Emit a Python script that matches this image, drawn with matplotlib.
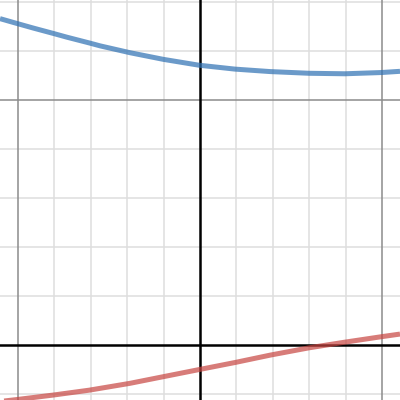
import numpy as np
import matplotlib.pyplot as plt

# values (x and y in minor-grid units)
blue_x = [-5.48, -5.01, -4.58, -4.03, -3.64, -3.04, -2.74, -1.92, -1.01,
          -0.03, 0.96, 1.92, 2.99, 3.97, 4.96, 5.48]
blue_y = [6.66, 6.56, 6.47, 6.36, 6.28, 6.165, 6.105, 5.965, 5.83,
          5.71, 5.63, 5.58, 5.545, 5.535, 5.56, 5.585]

red_x = [-5.48, -5.01, -4.03, -3.04, -1.92, -1.01, -0.03, 0.96, 1.92,
         2.99, 3.97, 4.96, 5.48]
red_y = [-1.15, -1.11, -1.02, -0.92, -0.78, -0.645, -0.50, -0.355, -0.205,
         -0.055, 0.06, 0.17, 0.225]

x_range = (-5.48, 5.48)
y_range = (-1.12, 7.04)

fig = plt.figure(figsize=(4, 4), dpi=100)
ax = fig.add_axes([0, 0, 1, 1])
ax.set_xlim(*x_range)
ax.set_ylim(*y_range)
ax.axis("off")

# minor / major grid
for gx in range(-5, 6):
    if gx == 0:
        continue
    if gx % 5 == 0:
        ax.axvline(gx, color="#8c8c8c", lw=1.1, zorder=1)
    else:
        ax.axvline(gx, color="#dedede", lw=1.1, zorder=0)
for gy in range(-1, 8):
    if gy == 0:
        continue
    if gy % 5 == 0:
        ax.axhline(gy, color="#8c8c8c", lw=1.1, zorder=1)
    else:
        ax.axhline(gy, color="#dedede", lw=1.1, zorder=0)

# axes
ax.axvline(0, color="black", lw=1.8, zorder=2)
ax.axhline(0, color="black", lw=1.8, zorder=2)

ax.plot(blue_x, blue_y, color="#2d70b3", alpha=0.7, lw=3.6,
        solid_capstyle="butt", solid_joinstyle="round", zorder=3)
ax.plot(red_x, red_y, color="#c74440", alpha=0.7, lw=3.6,
        solid_capstyle="butt", solid_joinstyle="round", zorder=3)

fig.savefig("out.png", dpi=100)
